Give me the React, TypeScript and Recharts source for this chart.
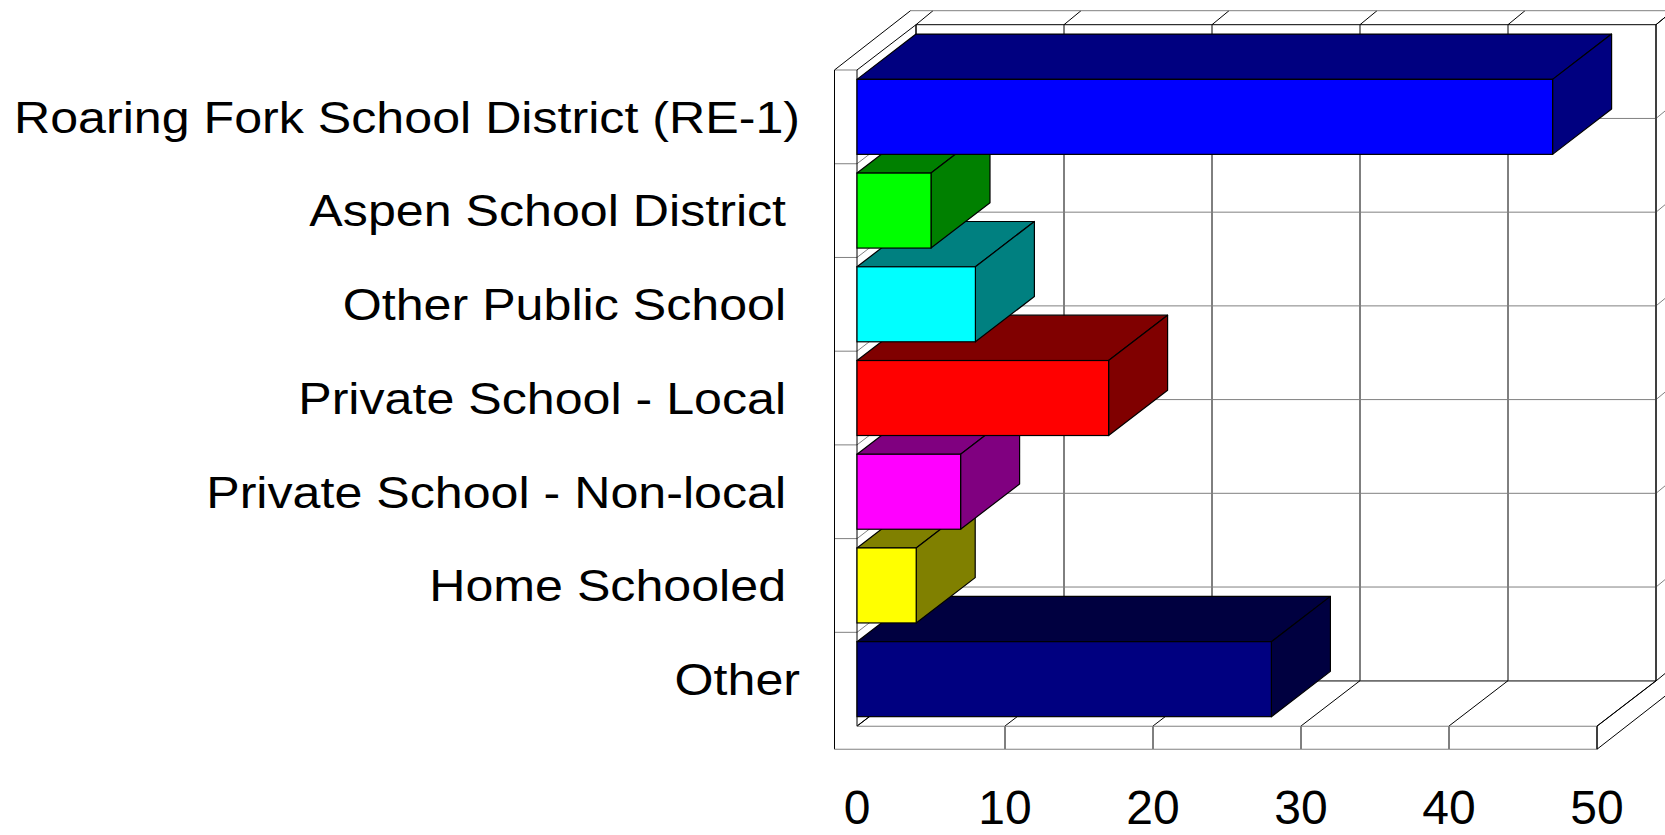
import React from 'react';
import { BarChart, Bar, XAxis, YAxis, CartesianGrid } from 'recharts';

const categories = [
  'Roaring Fork School District (RE-1)',
  'Aspen School District ',
  'Other Public School ',
  'Private School - Local ',
  'Private School - Non-local ',
  'Home Schooled ',
  'Other',
];
const values = [47, 5, 8, 17, 7, 4, 28];
const xTicks = [0, 10, 20, 30, 40, 50];
const frontColors = ['#0000FF', '#00FF00', '#00FFFF', '#FF0000', '#FF00FF', '#FFFF00', '#000080'];
const sideColors = ['#000080', '#008000', '#008080', '#800000', '#800080', '#808000', '#000040'];

const W = 1665;
const H = 835;
const DX = 59;
const DY = -45.3;
const TX = 17;
const TY = -14;
const SW = 22.5;
const FT = 23;
const GAP_FRAC = 0.125; // gap on each side relative to bar height (10% of band)
const GRAY = '#808080';
const BLACK = '#000000';
const FONT = '"Liberation Sans", Arial, Helvetica, sans-serif';

const rows = categories
  .map((name, i) => ({ name, value: values[i], front: frontColors[i], side: sideColors[i] }))
  .reverse();

const Ln = (p: { a: number; b: number; c: number; d: number; s?: string; w?: number }) => (
  <line x1={p.a} y1={p.b} x2={p.c} y2={p.d} stroke={p.s || BLACK} strokeWidth={p.w || 1} />
);

const renderVertical = (p: any) => {
  const { x1, y1, y2, x } = p;
  const T = y1;
  const B = y2;
  const isFirst = Math.abs(x1 - x) < 0.5;
  return (
    <g key={p.key}>
      <Ln a={x1 + DX} b={T + DY} c={x1 + DX} d={B + DY} />
      <Ln a={x1 + DX} b={T + DY} c={x1 + DX + TX} d={T + DY + TY} />
      <Ln a={x1} b={B} c={x1 + DX} d={B + DY} />
      {!isFirst && <Ln a={x1} b={B} c={x1} d={B + FT} />}
    </g>
  );
};

const renderBackground = (p: any) => {
  const { x, y, width, height, payload } = p;
  const L = x;
  const R = x + width;
  const gap = height * GAP_FRAC;
  const band = height + 2 * gap;
  const els: React.ReactNode[] = [];
  if (payload && payload.name !== categories[categories.length - 1]) {
    const yb = y + height + gap;
    els.push(
      <g key="b">
        <Ln a={L + DX} b={yb + DY} c={R + DX} d={yb + DY} s={GRAY} />
        <Ln a={R + DX} b={yb + DY} c={R + DX + TX} d={yb + DY + TY} s={GRAY} />
        <Ln a={L} b={yb} c={L + DX} d={yb + DY} s={GRAY} />
        <Ln a={L - SW} b={yb} c={L} d={yb} s={GRAY} />
      </g>
    );
  }
  if (payload && payload.name === categories[0]) {
    const T = y - gap;
    const B = T + categories.length * band;
    els.push(
      <g key="frame">
        {/* back wall */}
        <Ln a={L + DX} b={T + DY} c={R + DX} d={T + DY} />
        <Ln a={L + DX} b={B + DY} c={R + DX} d={B + DY} />
        <Ln a={L + DX} b={T + DY} c={L + DX} d={B + DY} />
        <Ln a={R + DX} b={T + DY} c={R + DX} d={B + DY} />
        <Ln a={L - SW + DX + TX} b={T + DY + TY} c={R + DX + TX + 30} d={T + DY + TY} s={GRAY} />
        <Ln a={R + DX} b={T + DY} c={R + DX + TX} d={T + DY + TY} />
        <Ln a={R + DX} b={B + DY} c={R + DX + TX} d={B + DY + TY} />
        {/* left wall */}
        <Ln a={L - SW} b={T} c={L} d={T} s={GRAY} />
        <Ln a={L - SW} b={T} c={L - SW} d={B + FT} />
        <Ln a={L} b={T} c={L} d={B} />
        <Ln a={L - SW} b={T} c={L - SW + DX + TX} d={T + DY + TY} />
        <Ln a={L} b={T} c={L + DX} d={T + DY} />
        <Ln a={L} b={B} c={L + DX} d={B + DY} />
        {/* floor */}
        <Ln a={L} b={B} c={R} d={B} s={GRAY} />
        <Ln a={L - SW} b={B + FT} c={R} d={B + FT} s={GRAY} />
        <Ln a={R} b={B} c={R} d={B + FT} />
        <Ln a={R} b={B} c={R + DX} d={B + DY} />
        <Ln a={R} b={B + FT} c={R + DX + TX} d={B + FT + DY + TY} />
      </g>
    );
  }
  return <g>{els}</g>;
};

const Bar3D = (p: any) => {
  const { x, y, width, height, payload } = p;
  if (x == null || width == null) return <g />;
  const top = `M${x},${y} L${x + DX},${y + DY} L${x + width + DX},${y + DY} L${x + width},${y} Z`;
  const side = `M${x + width},${y} L${x + width + DX},${y + DY} L${x + width + DX},${y + height + DY} L${x + width},${y + height} Z`;
  return (
    <g>
      <path d={top} fill={payload.side} stroke={BLACK} strokeWidth={1.2} strokeLinejoin="round" />
      <path d={side} fill={payload.side} stroke={BLACK} strokeWidth={1.2} strokeLinejoin="round" />
      <rect x={x} y={y} width={width} height={height} fill={payload.front} stroke={BLACK} strokeWidth={1.2} />
    </g>
  );
};

const XTick = (p: any) => (
  <text x={p.x} y={p.y} textAnchor="middle" fontFamily={FONT} fontSize={48} fill={BLACK}>
    {p.payload.value}
  </text>
);

const YTick = (p: any) => (
  <g transform={`translate(${p.x},${p.y})`}>
    <text
      x={0}
      y={15.8}
      transform="scale(1.115,1)"
      textAnchor="end"
      fontFamily={FONT}
      fontSize={45}
      fill={BLACK}
      style={{ whiteSpace: 'pre' }}
    >
      {p.payload.value}
    </text>
  </g>
);

export default function App() {
  return (
    <div style={{ position: 'absolute', left: 0, top: 0, width: W, height: H, overflow: 'hidden', background: '#fff' }}>
      <BarChart
        width={W}
        height={H}
        data={rows}
        layout="vertical"
        margin={{ top: 70, right: 68, bottom: 79, left: 0 }}
        barCategoryGap="10%"
      >
        <CartesianGrid horizontal={false} vertical={renderVertical} />
        <XAxis
          type="number"
          domain={[0, 50]}
          ticks={xTicks}
          interval={0}
          axisLine={false}
          tickLine={false}
          tickMargin={92}
          tick={XTick}
          height={30}
        />
        <YAxis
          type="category"
          dataKey="name"
          width={857}
          reversed
          interval={0}
          axisLine={false}
          tickLine={false}
          tickMargin={51}
          tick={YTick}
        />
        <Bar dataKey="value" isAnimationActive={false} background={renderBackground} shape={Bar3D} />
      </BarChart>
    </div>
  );
}
